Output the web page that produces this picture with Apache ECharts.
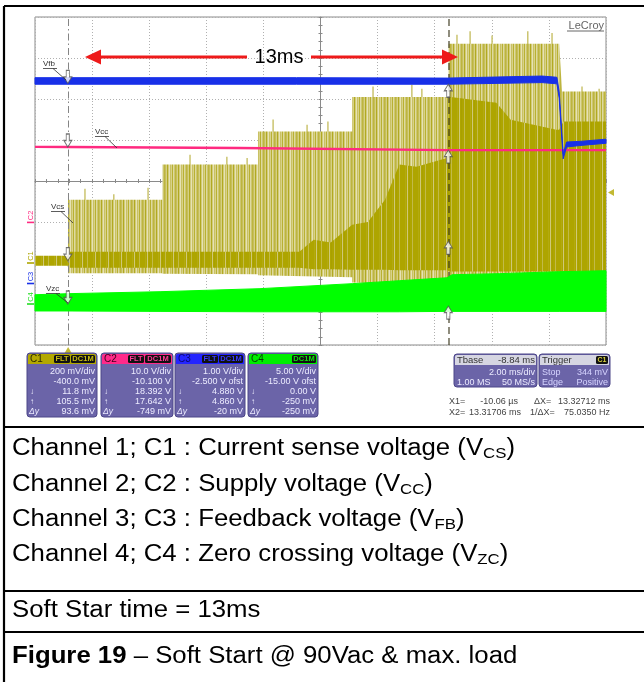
<!DOCTYPE html>
<html>
<head>
<meta charset="utf-8">
<title>Soft Start @ 90Vac &amp; max. load</title>
<script src="https://cdn.jsdelivr.net/npm/echarts@6/dist/echarts.min.js"></script>
<style>
  html, body { margin: 0; padding: 0; background: #ffffff; }
  #scope { width: 644px; height: 682px; }
</style>
</head>
<body>
<div id="scope"></div>
<script>
// ---------------- Timebase: 2 ms/div, 10 div, delay -8.84 ms ----------------
const TIME_MIN = -1.16;   // ms, left edge of the screen
const TIME_MAX = 18.84;   // ms, right edge of the screen

// ---------------- Vertical settings, C1..C4 ----------------
const chanNames  = ['C1', 'C2', 'C3', 'C4'];
const chanPerDiv = [200, 10, 1, 5];          // mV/div, V/div, V/div, V/div
const chanOffset = [-400, -10.1, -2.5, -15]; // mV, V, V, V

// ---------------- C1 : Vcs (mV) ----------------
// switching-pulse envelope (stepped soft-start current limit)
const vcsPulseT    = [0,   3.3, 3.3, 6.65, 6.65, 9.95, 9.95, 13.32, 13.32, 17.2, 17.3, 18.84];
const vcsPulseHigh = [309, 309, 480, 480,  642,  642,  810,  810,   1070,  1070, 837,  837];
const vcsPulseLow  = [-50, -50, -52, -55,  -60,  -70,  -95,  -110,  -100,  -85,  -80,  -80];
// dense part of the trace
const vcsBandT    = [-1.16, -0.02, 0,   8.1, 8.6, 9.2, 9.95, 10.5, 11.1, 11.6, 12.2, 13.3, 13.33, 15.0, 15.5, 17.1, 17.2, 17.35, 18.84];
const vcsBandHigh = [35,    35,    55,  55,  114, 100, 187,  200,  309,  480,  470,  514,  811,   782,  699,  650,  650,  690,   690];
const vcsBandLow  = [-13,   -13,   -23, -23, -30, -30, -33,  -33,  -33,  -35,  -35,  -35,  -42,   -42,  -42,  -42,  -42,  -42,   -42];
// isolated taller pulses
const vcsSpikeT = [0.59, 1.6, 2.8, 4.27, 5.56, 6.27, 7.18, 8.37, 9.1, 10.68, 12.04, 12.39, 13.62, 14.08, 14.85, 16.1, 16.95, 18.0, 18.6];
const vcsSpikeV = [362,  335, 367, 528,  518,  512,  700,  675,  690, 861,   870,   850,   1113,  1130,  1110,  1130, 1122,  861,  850];

// ---------------- C2 : Vcc (V) ----------------
const vccT = [-1.16, 0,      6.0,   13.32,  18.84];
const vccV = [18.42, 18.392, 18.15, 17.642, 17.62];

// ---------------- C3 : Vfb (V) ----------------
const vfbT    = [-1.16, 8,    13.3, 16.6, 17.12, 17.2, 17.34, 17.46, 18.0, 18.84];
const vfbHigh = [5.02,  5.02, 5.01, 5.06, 5.03,  4.68, 3.16,  3.45,  3.47, 3.52];
const vfbLow  = [4.86,  4.86, 4.86, 4.90, 4.87,  4.52, 3.04,  3.33,  3.37, 3.42];

// ---------------- C4 : Vzc (V) ----------------
const vzcT    = [-1.16, 0,     3.22, 6.72,  9.95,  11.6,  13.27, 13.45, 15.1, 17.2, 18.84];
const vzcHigh = [1.13,  1.26,  1.5,  1.87,  2.48,  2.84,  3.2,   3.57,  3.7,  3.94, 4.06];
const vzcLow  = [-0.85, -0.85, -0.9, -0.95, -0.95, -0.95, -0.9,  -0.9,  -0.9, -0.9, -0.9];

// ---------------- Cursors ----------------
const cursorT  = [-0.01006, 13.31706];        // ms (X1, X2)
const atX1     = [11.8, 18.392, 4.880, 0.00]; // C1 mV, C2..C4 V
const atX2     = [105.5, 17.642, 4.860, -0.25];
const trigLevel = 344;                        // mV on C1, trigger at t = 0

// ---------------- Readout texts ----------------
const chanScaleTxt  = ['200 mV/div', '10.0 V/div', '1.00 V/div', '5.00 V/div'];
const chanOffsetTxt = ['-400.0 mV', '-10.100 V', '-2.500 V ofst', '-15.00 V ofst'];
const chanX1Txt     = ['11.8 mV', '18.392 V', '4.880 V', '0.00 V'];
const chanX2Txt     = ['105.5 mV', '17.642 V', '4.860 V', '-250 mV'];
const chanDyTxt     = ['93.6 mV', '-749 mV', '-20 mV', '-250 mV'];
const traceTags     = ['Vcs', 'Vcc', 'Vfb', 'Vzc'];

const captionRows = [
  ['Channel 1; C1 : Current sense voltage (V', 'CS', ')'],
  ['Channel 2; C2 : Supply voltage (V', 'CC', ')'],
  ['Channel 3; C3 : Feedback voltage (V', 'FB', ')'],
  ['Channel 4; C4 : Zero crossing voltage (V', 'ZC', ')']
];
const softStartNote = 'Soft Star time = 13ms';
const figureNumber  = 'Figure 19';
const figureTitle   = ' \u2013 Soft Start @ 90Vac & max. load';

// =====================================================================
const FONT = '"Liberation Sans", Arial, Helvetica, sans-serif';
const OLIVE = '#aea500', PINK = '#ff2a80', BLUE = '#1830e8', GREEN = '#00ff00';

const chart = echarts.init(document.getElementById('scope'), null, { renderer: 'canvas' });

// vertical stripe textures standing in for the individual switching pulses
function stripeTexture(cols) {
  const cv = document.createElement('canvas');
  cv.width = cols.length; cv.height = 4;
  const g = cv.getContext('2d');
  cols.forEach((c, i) => { g.fillStyle = c; g.fillRect(i, 0, 1, 4); });
  return { image: cv, repeat: 'repeat' };
}
const sparsePulses = stripeTexture(['#c6be5c', '#d6d084', '#b1a922', '#d2cb7a', '#e6e2b4', '#c9c164',
                                    '#d8d28a', '#b8b032', '#dedaa0', '#cdc670', '#bdb53e']);
const densePulses = stripeTexture(['#aea500', '#aea500', '#b3aa10', '#aea500', '#cfc878', '#aea500',
                                   '#a9a000', '#aea500', '#aea500', '#c2ba48', '#aea500', '#aea500', '#aea500']);

// filled band between a lower and upper trace envelope
function bandSeries(name, ts, lo, hi, axis, fill, z, stroke) {
  return {
    type: 'custom', name: name, xAxisIndex: 1, yAxisIndex: axis, z: z, silent: true,
    data: [[ts[0], lo[0]]],
    renderItem: function (params, api) {
      const pts = [];
      for (let i = 0; i < ts.length; i++) pts.push(api.coord([ts[i], hi[i]]));
      for (let i = ts.length - 1; i >= 0; i--) pts.push(api.coord([ts[i], lo[i]]));
      return {
        type: 'polygon', shape: { points: pts },
        style: { fill: fill, stroke: stroke || null, lineWidth: stroke ? 1 : 0 }
      };
    }
  };
}

const chanMin = chanPerDiv.map((d, i) => -chanOffset[i] - 4 * d);
const chanMax = chanPerDiv.map((d, i) => -chanOffset[i] + 4 * d);

const ARROW_DOWN = 'path://M3,0L7,0L7,7L10,7L5,14L0,7L3,7Z';
const ARROW_UP   = 'path://M5,0L10,7L7,7L7,14L3,14L3,7L0,7Z';

const gridTick = { show: true, length: 2, lineStyle: { color: '#8a8a8a' } };
const gridMinor = { show: true, splitNumber: 5, length: 2, lineStyle: { color: '#8a8a8a' } };
const dotted = { show: true, lineStyle: { color: '#b0b0b0', width: 1, type: [1, 2] } };

const series = [
  // C1 isolated pulses (under the envelope)
  {
    type: 'custom', name: 'Vcs pulses', xAxisIndex: 1, yAxisIndex: 1, z: 2, silent: true,
    data: vcsSpikeT.map((t, i) => [t, vcsSpikeV[i]]),
    renderItem: function (params, api) {
      const a = api.coord([api.value(0), 0]);
      const b = api.coord([api.value(0), api.value(1)]);
      return { type: 'line', shape: { x1: a[0], y1: a[1], x2: b[0], y2: b[1] },
               style: { stroke: '#cbc470', lineWidth: 1.5 } };
    }
  },
  bandSeries('Vcs envelope', vcsPulseT, vcsPulseLow, vcsPulseHigh, 1, sparsePulses, 3),
  bandSeries('Vcs', vcsBandT, vcsBandLow, vcsBandHigh, 1, densePulses, 4),
  bandSeries('Vzc', vzcT, vzcLow, vzcHigh, 4, GREEN, 5, GREEN),
  {
    type: 'line', name: 'Vcc', xAxisIndex: 1, yAxisIndex: 2, z: 6, silent: true,
    showSymbol: false, symbol: 'none',
    data: vccT.map((t, i) => [t, vccV[i]]),
    lineStyle: { color: PINK, width: 2.4 }
  },
  bandSeries('Vfb', vfbT, vfbLow, vfbHigh, 3, BLUE, 7, BLUE),
  // cursors X1 / X2
  {
    type: 'line', name: 'cursors', xAxisIndex: 1, yAxisIndex: 1, z: 8, silent: true, data: [],
    markLine: {
      silent: true, symbol: ['none', 'none'], label: { show: false }, animation: false,
      emphasis: { disabled: true },
      data: [
        { xAxis: cursorT[0], lineStyle: { color: '#858585', width: 1, type: [7, 3, 1.5, 3] } },
        { xAxis: cursorT[1], lineStyle: { color: 'rgba(55,52,25,0.7)', width: 1.6, type: [7, 4] } }
      ]
    }
  }
];

// cursor arrows on each channel
for (let k = 0; k < 4; k++) {
  series.push({
    type: 'scatter', name: chanNames[k] + ' cursor', xAxisIndex: 1, yAxisIndex: k + 1, z: 9,
    silent: true, clip: false, symbolSize: [8, 13],
    itemStyle: { color: '#ffffff', borderColor: '#505050', borderWidth: 1 },
    data: [
      { value: [cursorT[0], atX1[k]], symbol: ARROW_DOWN, symbolOffset: [0, -6.5] },
      { value: [cursorT[1], atX2[k]], symbol: ARROW_UP, symbolOffset: [0, 6.5] }
    ]
  });
}
// trigger position and trigger level markers
series.push({
  type: 'scatter', name: 'trigger', xAxisIndex: 1, yAxisIndex: 1, z: 9, silent: true, clip: false,
  itemStyle: { color: '#b3a800' },
  data: [
    { value: [0, chanMin[0]], symbol: 'triangle', symbolSize: [7, 6], symbolOffset: [0, 5] },
    { value: [TIME_MAX, trigLevel], symbol: 'triangle', symbolRotate: 90, symbolSize: [7, 6], symbolOffset: [5, 0] }
  ]
});

const yAxes = [
  { type: 'value', min: -4, max: 4, interval: 1, position: 'left',
    axisLine: { show: true, onZero: true, onZeroAxisIndex: 0, lineStyle: { color: '#8a8a8a' } },
    axisTick: gridTick, minorTick: gridMinor, axisLabel: { show: false }, splitLine: dotted }
];
for (let k = 0; k < 4; k++) {
  yAxes.push({ type: 'value', min: chanMin[k], max: chanMax[k], show: false, splitLine: { show: false } });
}
yAxes.push({ type: 'value', min: -4, max: 4, interval: 1, position: 'right',
  axisLine: { show: false, onZero: true, onZeroAxisIndex: 0 },
  axisTick: gridTick, minorTick: gridMinor, axisLabel: { show: false }, splitLine: { show: false } });

chart.setOption({
  animation: false,
  backgroundColor: '#ffffff',
  grid: { left: 35, top: 17, width: 571, height: 328, show: true,
          borderColor: '#8a8a8a', borderWidth: 1, backgroundColor: 'transparent' },
  xAxis: [
    { type: 'value', min: -5, max: 5, interval: 1, position: 'bottom',
      axisLine: { show: true, onZero: true, onZeroAxisIndex: 0, lineStyle: { color: '#8a8a8a' } },
      axisTick: gridTick, minorTick: gridMinor, axisLabel: { show: false }, splitLine: dotted },
    { type: 'value', min: TIME_MIN, max: TIME_MAX, show: false, splitLine: { show: false } },
    { type: 'value', min: -5, max: 5, interval: 1, position: 'top',
      axisLine: { show: false, onZero: true, onZeroAxisIndex: 0 },
      axisTick: gridTick, minorTick: gridMinor, axisLabel: { show: false }, splitLine: { show: false } }
  ],
  yAxis: yAxes,
  series: series
});

// =====================================================================
// Annotations, readout boxes and caption table
const G = [];
const Z = 100;
function txt(x, y, s, size, fill, align, extra) {
  return { type: 'text', x: x, y: y, z: Z,
    style: Object.assign({ text: s, fontSize: size, fontFamily: FONT, fill: fill,
                           align: align || 'left', verticalAlign: 'middle' }, extra || {}) };
}
function line(x1, y1, x2, y2, stroke, w) {
  return { type: 'line', z: Z, shape: { x1: x1, y1: y1, x2: x2, y2: y2 }, style: { stroke: stroke, lineWidth: w } };
}
function rect(x, y, w, h, fill, stroke, r) {
  return { type: 'rect', z: Z, shape: { x: x, y: y, width: w, height: h, r: r || 0 },
           style: { fill: fill, stroke: stroke || null, lineWidth: stroke ? 1 : 0 } };
}

// outer frame and table rules
G.push(line(4, 6, 644, 6, '#000', 2));
G.push(line(4, 6, 4, 682, '#000', 2.2));
[427, 591, 632].forEach(y => G.push(line(4, y, 644, y, '#000', 2)));

// 13 ms span arrow
const RED = '#ee1a1a';
G.push(line(99, 57, 247, 57, RED, 3));
G.push(line(311, 57, 444, 57, RED, 3));
G.push({ type: 'polygon', z: Z, shape: { points: [[85, 57], [101, 49.5], [101, 64.5]] }, style: { fill: RED } });
G.push({ type: 'polygon', z: Z, shape: { points: [[458, 57], [442, 49.5], [442, 64.5]] }, style: { fill: RED } });
G.push(txt(279, 57, '13ms', 20, '#000', 'center'));

// LeCroy mark
G.push(txt(604, 25.5, 'LeCroy', 11, '#666', 'right'));
G.push(line(567, 31, 604, 31, '#666', 1));

// trace tags with leader lines
const tagPos = [ // [text x, text y, underline y, leader end x, leader end y]
  [51, 207, 211.5, 73, 223],
  [95, 132, 136.5, 117, 148],
  [43, 64, 68.5, 66, 80],
  [46, 289, 293.5, 68, 303]
];
tagPos.forEach((p, k) => {
  G.push(txt(p[0], p[1], traceTags[k], 8, '#333', 'left'));
  G.push(line(p[0], p[2], p[0] + 14, p[2], '#333', 0.8));
  G.push(line(p[0] + 10, p[2], p[3], p[4], '#333', 0.8));
});

// channel readout boxes
const boxX = [27, 101, 175, 248], boxW = [70, 72, 70, 70];
const headCol = ['#b3a800', '#ff2a8a', '#2424ff', '#00ee00'];
const tagCol  = ['#c8bc10', '#ff3a95', '#3a3aff', '#10e010'];
const titleCol = ['#2c2a00', '#3a0018', '#0a0a70', '#083808'];
const BODY = '#6b64a8', BODY_EDGE = '#4c4688', BODY_TXT = '#ecebff';
for (let k = 0; k < 4; k++) {
  const x = boxX[k], w = boxW[k], y = 353;
  G.push(rect(x, y, w, 64, BODY, BODY_EDGE, 3));
  G.push(rect(x + 1, y + 1, w - 2, 10, headCol[k], null, [2, 2, 0, 0]));
  G.push(txt(x + 3, y + 6.5, chanNames[k], 10, titleCol[k], 'left'));
  const tags = k < 3 ? [['FLT', x + 27, 16], ['DC1M', x + 44, w - 46]] : [['DC1M', x + 44, w - 46]];
  tags.forEach(t => {
    G.push(rect(t[1], y + 2, t[2], 8, '#111', null, 1.5));
    G.push(txt(t[1] + t[2] / 2, y + 6.3, t[0], 7.5, tagCol[k], 'center', { fontWeight: 'bold' }));
  });
  const rows = [chanScaleTxt[k], chanOffsetTxt[k], chanX1Txt[k], chanX2Txt[k], chanDyTxt[k]];
  rows.forEach((s, i) => G.push(txt(x + w - 2, y + 19 + i * 10, s, 9, BODY_TXT, 'right')));
  G.push(txt(x + 3, y + 39, '\u2193', 8, BODY_TXT, 'left'));
  G.push(txt(x + 3, y + 49, '\u2191', 8, BODY_TXT, 'left'));
  G.push(txt(x + 2, y + 59, '\u0394y', 8.5, BODY_TXT, 'left', { fontStyle: 'italic' }));
}

// timebase and trigger boxes
const HEAD_GRAY = '#d6d6e2';
G.push(rect(454, 354, 83, 33, BODY, BODY_EDGE, 3));
G.push(rect(455, 355, 81, 10, HEAD_GRAY, null, [2, 2, 0, 0]));
G.push(txt(457, 360.5, 'Tbase', 9.5, '#333', 'left'));
G.push(txt(535, 360.5, '-8.84 ms', 9.5, '#333', 'right'));
G.push(txt(535, 373, '2.00 ms/div', 9, BODY_TXT, 'right'));
G.push(txt(457, 382.5, '1.00 MS', 9, BODY_TXT, 'left'));
G.push(txt(535, 382.5, '50 MS/s', 9, BODY_TXT, 'right'));
G.push(rect(539, 354, 71, 33, BODY, BODY_EDGE, 3));
G.push(rect(540, 355, 69, 10, HEAD_GRAY, null, [2, 2, 0, 0]));
G.push(txt(542, 360.5, 'Trigger', 9.5, '#333', 'left'));
G.push(rect(596, 356, 12, 8, '#111', null, 1.5));
G.push(txt(602, 360.3, 'C1', 7, '#d8d040', 'center', { fontWeight: 'bold' }));
G.push(txt(542, 373, 'Stop', 9, '#d6d4ff', 'left'));
G.push(txt(608, 373, trigLevel + ' mV', 9, '#d6d4ff', 'right'));
G.push(txt(542, 382.5, 'Edge', 9, '#d6d4ff', 'left'));
G.push(txt(608, 382.5, 'Positive', 9, '#d6d4ff', 'right'));

// cursor readouts
const RD = '#444';
G.push(txt(449, 402, 'X1=', 9, RD, 'left'));
G.push(txt(518, 402, '-10.06 \u00b5s', 9, RD, 'right'));
G.push(txt(534, 402, '\u0394X=', 9, RD, 'left'));
G.push(txt(610, 402, '13.32712 ms', 9, RD, 'right'));
G.push(txt(449, 413, 'X2=', 9, RD, 'left'));
G.push(txt(521, 413, '13.31706 ms', 9, RD, 'right'));
G.push(txt(530, 413, '1/\u0394X=', 9, RD, 'left'));
G.push(txt(610, 413, '75.0350 Hz', 9, RD, 'right'));

// channel ground markers at the left edge
const markCol = [OLIVE, PINK, BLUE, '#22dd22'];
for (let k = 0; k < 4; k++) {
  const p = chart.convertToPixel({ xAxisIndex: 1, yAxisIndex: k + 1 }, [TIME_MIN, 0]);
  G.push(line(p[0] - 8, p[1], p[0] - 1, p[1], markCol[k], 1.6));
  G.push({ type: 'text', x: p[0] - 4.5, y: p[1] - 7, rotation: Math.PI / 2, z: Z,
           style: { text: chanNames[k], fontSize: 7.5, fontFamily: FONT, fill: markCol[k],
                    align: 'center', verticalAlign: 'middle' } });
}

// caption table
const mctx = document.createElement('canvas').getContext('2d');
function measure(s, size, weight) {
  mctx.font = (weight || 'normal') + ' ' + size + 'px ' + FONT;
  return mctx.measureText(s).width;
}
const CAP = 23, SUB = 15, SX = 1.12;
function captionLine(parts, x, y) {
  let cx = 0;
  const children = [];
  parts.forEach(p => {
    children.push({ type: 'text', x: cx, y: p.dy || 0, z: Z,
      style: { text: p.s, fontSize: p.size, fontWeight: p.weight || 'normal', fontFamily: FONT,
               fill: '#000', align: 'left', verticalAlign: 'middle' } });
    cx += measure(p.s, p.size, p.weight);
  });
  return { type: 'group', x: x, y: y, scaleX: SX, children: children };
}
const rowY = [449, 485, 520, 555];
captionRows.forEach((r, i) => {
  G.push(captionLine([{ s: r[0], size: CAP }, { s: r[1], size: SUB, dy: 5 }, { s: r[2], size: CAP }], 12, rowY[i]));
});
G.push(captionLine([{ s: softStartNote, size: CAP }], 12, 611));
G.push(captionLine([{ s: figureNumber, size: CAP, weight: 'bold' }, { s: figureTitle, size: CAP }], 12, 657));

chart.setOption({ graphic: { elements: G } });
</script>
</body>
</html>
